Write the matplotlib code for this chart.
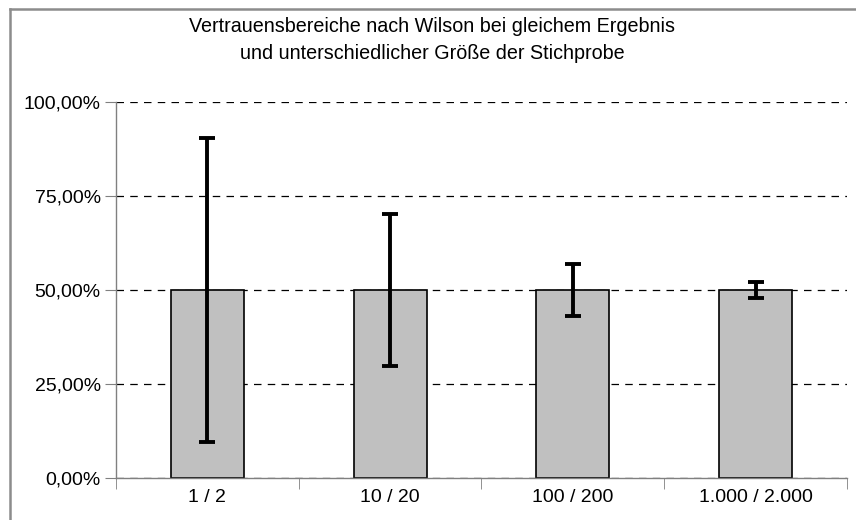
import matplotlib
matplotlib.use("Agg")
import matplotlib.pyplot as plt
from matplotlib.lines import Line2D
from matplotlib.ticker import FuncFormatter, MultipleLocator

# Data (share of successes, Wilson interval bounds)
categories = ["1 / 2", "10 / 20", "100 / 200", "1.000 / 2.000"]
share = [0.50, 0.50, 0.50, 0.50]
lower = [0.0945, 0.299, 0.431, 0.478]
upper = [0.9055, 0.701, 0.569, 0.522]

title = "Vertrauensbereiche nach Wilson bei gleichem Ergebnis\nund unterschiedlicher Größe der Stichprobe"

plt.rcParams['font.family'] = ['Liberation Sans', 'DejaVu Sans']

fig = plt.figure(figsize=(8.56, 5.2), dpi=100)
ax = fig.add_axes([116 / 856, 1 - 478 / 520, (847 - 116) / 856, (478 - 102) / 520])

x = list(range(len(categories)))
err_low = [s - lo for s, lo in zip(share, lower)]
err_high = [hi - s for s, hi in zip(share, upper)]

ax.bar(x, share, width=0.4, color="#c0c0c0", edgecolor="black", linewidth=1.2, zorder=2)
ax.errorbar(x, share, yerr=[err_low, err_high], fmt="none", ecolor="black",
            elinewidth=2.8, capsize=6, capthick=2.8, zorder=3)

ax.set_xlim(-0.5, len(categories) - 0.5)
ax.set_ylim(0, 1)
ax.yaxis.set_major_locator(MultipleLocator(0.25))
ax.yaxis.set_major_formatter(FuncFormatter(lambda v, p: f"{v * 100:.2f}%".replace(".", ",")))
ax.grid(axis="y", linestyle=(0, (6, 5)), color="black", linewidth=0.9, zorder=1)

ax.set_xticks(x)
ax.set_xticklabels(categories)
ax.tick_params(axis="x", length=0, labelsize=14, pad=8)
ax.tick_params(axis="y", length=8, color="#808080", labelsize=14, pad=3)
# category boundary ticks below the x axis
ax.set_xticks([i - 0.5 for i in range(len(categories) + 1)], minor=True)
ax.tick_params(axis="x", which="minor", length=8, color="#808080")

for side in ["top", "right"]:
    ax.spines[side].set_visible(False)
for side in ["left", "bottom"]:
    ax.spines[side].set_color("#808080")
    ax.spines[side].set_linewidth(1)

fig.text(432 / 856, 1 - 40 / 520, title, ha="center", va="center",
         fontsize=14.2, linespacing=1.5)

# outer chart border (top and left only)
fig.add_artist(Line2D([10 / 856, 1], [1 - 9 / 520, 1 - 9 / 520], color="#8c8c8c", linewidth=1.8))
fig.add_artist(Line2D([10 / 856, 10 / 856], [0, 1 - 9 / 520], color="#8c8c8c", linewidth=1.8))

fig.savefig("out.png", dpi=100)
